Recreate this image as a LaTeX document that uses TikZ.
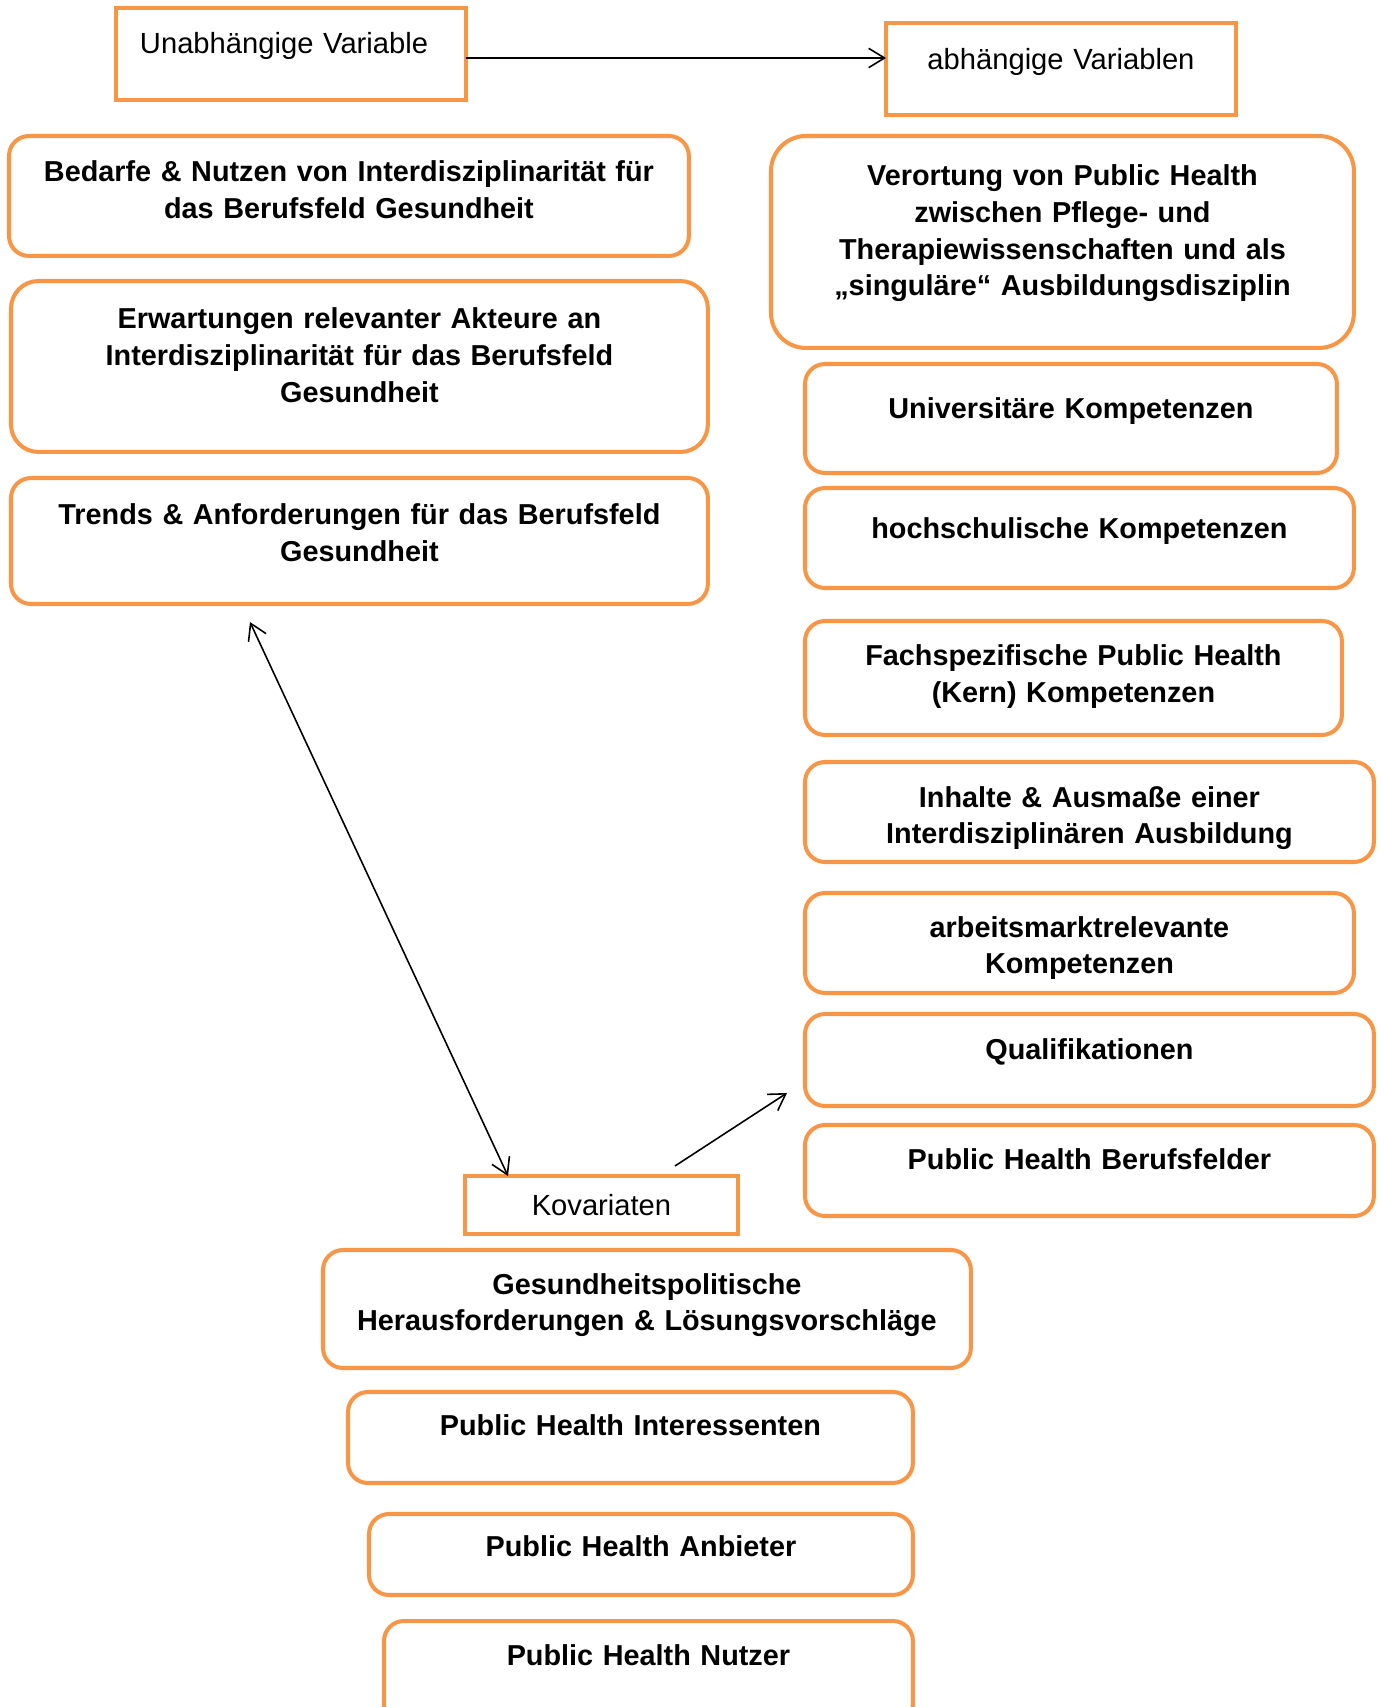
\documentclass[tikz,border=0pt]{standalone}
\usepackage{fontspec}
\setmainfont{Liberation Sans}
\usepackage{tikz}
\usetikzlibrary{arrows.meta}
\definecolor{BoxOrange}{RGB}{247,150,70}

\begin{document}
\begin{tikzpicture}[x=0.02cm, y=-0.02cm,
    varbox/.style={rectangle, draw=BoxOrange, line width=2.3pt, inner xsep=0pt, inner ysep=0pt, outer sep=0pt, anchor=north west, align=center, font=\fontsize{16.6pt}{20.8pt}\selectfont},
    itembox/.style={varbox, rounded corners=0.4cm, font=\fontsize{16.4pt}{20.8pt}\selectfont\bfseries},
    arrow/.style={-{Straight Barb[length=9pt,width=11pt]}, line width=0.9pt},
    dblarrow/.style={{Straight Barb[length=9pt,width=11pt]}-{Straight Barb[length=9pt,width=11pt]}, line width=0.9pt}
]
\clip (0,0) rectangle (1383,1707);

% Variablen
\node[varbox, align=left, inner xsep=0.48cm, text width=6.04cm, text height=0.91cm, text depth=0.93cm] (unabh) at (116,8) {Unabhängige Variable};
\node[varbox, text width=7cm, text height=0.94cm, text depth=0.9cm] (abh) at (886,23) {abhängige Variablen};
\node[varbox, text width=5.46cm, text height=0.78cm, text depth=0.38cm] (kovar) at (465,1176) {Kovariaten};

% linke Spalte
\node[itembox, text width=13.6cm, text height=0.92cm, text depth=1.48cm] (bedarfe) at (9,136) {Bedarfe \& Nutzen von Interdisziplinarität für\\das Berufsfeld Gesundheit};
\node[itembox, rounded corners=0.55cm, text width=13.94cm, text height=0.96cm, text depth=2.46cm] (erwart) at (11,281) {Erwartungen relevanter Akteure an\\Interdisziplinarität für das Berufsfeld\\Gesundheit};
\node[itembox, text width=13.94cm, text height=0.94cm, text depth=1.58cm] (trends) at (11,478) {Trends \& Anforderungen für das Berufsfeld\\Gesundheit};

% rechte Spalte
\node[itembox, rounded corners=0.7cm, text width=11.66cm, text height=1cm, text depth=3.24cm] (verort) at (771,136) {Verortung von Public Health\\zwischen Pflege- und\\Therapiewissenschaften und als\\„singuläre“ Ausbildungsdisziplin};
\node[itembox, text width=10.64cm, text height=1.1cm, text depth=1.08cm] (univ) at (805,364) {Universitäre Kompetenzen};
\node[itembox, text width=10.98cm, text height=1.02cm, text depth=0.98cm] (hochsch) at (805,488) {hochschulische Kompetenzen};
\node[itembox, text width=10.74cm, text height=0.9cm, text depth=1.38cm] (fachsp) at (805,621) {Fachspezifische Public Health\\(Kern) Kompetenzen};
\node[itembox, text width=11.38cm, text height=0.9cm, text depth=1.1cm] (inhalte) at (805,762) {Inhalte \& Ausmaße einer\\Interdisziplinären Ausbildung};
\node[itembox, text width=10.98cm, text height=0.88cm, text depth=1.12cm] (arbeits) at (805,893) {arbeitsmarktrelevante\\Kompetenzen};
\node[itembox, text width=11.38cm, text height=0.9cm, text depth=0.94cm] (quali) at (805,1014) {Qualifikationen};
\node[itembox, text width=11.38cm, text height=0.88cm, text depth=0.94cm] (berufsf) at (805,1125) {Public Health Berufsfelder};

% Kovariaten
\node[itembox, text width=12.96cm, text height=0.88cm, text depth=1.48cm] (gesundh) at (323,1250) {Gesundheitspolitische\\Herausforderungen \& Lösungsvorschläge};
\node[itembox, text width=11.3cm, text height=0.86cm, text depth=0.96cm] (interess) at (348,1392) {Public Health Interessenten};
\node[itembox, text width=10.88cm, text height=0.84cm, text depth=0.78cm] (anbieter) at (369,1514) {Public Health Anbieter};
\node[itembox, text width=10.58cm, text height=0.88cm, text depth=1.2cm] (nutzer) at (384,1621) {Public Health Nutzer};

\draw[arrow] ([yshift=-0.08cm]unabh.east) -- ([yshift=-0.08cm]unabh.east -| abh.west);
\draw[dblarrow] ([xshift=4.78cm, yshift=-0.36cm]trends.south west) -- ([xshift=0.86cm]kovar.north west);
\draw[arrow] ([xshift=4.2cm, yshift=0.2cm]kovar.north west) -- ([xshift=-0.36cm, yshift=0.26cm]quali.south west);
\end{tikzpicture}
\end{document}
